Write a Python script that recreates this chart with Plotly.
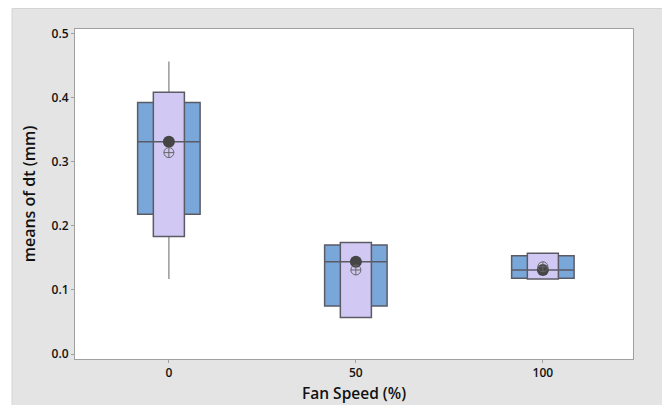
import plotly.graph_objects as go

# ---- data ----
fan_speed = [0, 50, 100]
q1 = [0.218, 0.075, 0.118]
median = [0.331, 0.144, 0.131]
q3 = [0.392, 0.170, 0.153]
ci_low = [0.183, 0.057, 0.117]
ci_high = [0.408, 0.174, 0.157]
whisker_low = [0.117, 0.075, 0.118]
whisker_high = [0.456, 0.170, 0.153]
mean = [0.314, 0.131, 0.136]

x_ticks = [0, 50, 100]
y_ticks = [0.0, 0.1, 0.2, 0.3, 0.4, 0.5]

BLUE = "#79a7d9"
PURPLE = "#d1c9f3"
OUTLINE = "#5b5b66"
WHISK = "#9a9a9a"
FONT = "Open Sans"

fig = go.Figure()

# whiskers (drawn first, beneath the boxes)
fig.add_trace(go.Box(
    x=fan_speed, q1=median, median=median, q3=median,
    lowerfence=whisker_low, upperfence=whisker_high,
    width=0.001, whiskerwidth=0, boxpoints=False,
    line=dict(color=WHISK, width=1.5), fillcolor="rgba(0,0,0,0)",
    hoverinfo="skip", showlegend=False,
))
# interquartile box
fig.add_trace(go.Box(
    x=fan_speed, q1=q1, median=median, q3=q3,
    lowerfence=q1, upperfence=q3,
    width=16.7, whiskerwidth=0, boxpoints=False,
    line=dict(color=OUTLINE, width=1.5), fillcolor=BLUE,
    hoverinfo="skip", showlegend=False,
))
# median confidence interval box
fig.add_trace(go.Box(
    x=fan_speed, q1=ci_low, median=median, q3=ci_high,
    lowerfence=ci_low, upperfence=ci_high,
    width=8.3, whiskerwidth=0, boxpoints=False,
    line=dict(color=OUTLINE, width=1.5), fillcolor=PURPLE,
    hoverinfo="skip", showlegend=False,
))
# median dot
fig.add_trace(go.Scatter(
    x=fan_speed, y=median, mode="markers",
    marker=dict(symbol="circle", size=12, color="#454545"),
    hoverinfo="skip", showlegend=False,
))
# mean symbol
fig.add_trace(go.Scatter(
    x=fan_speed, y=mean, mode="markers",
    marker=dict(symbol="circle-cross-open", size=10, color="#666666",
                line=dict(width=1, color="#666666")),
    hoverinfo="skip", showlegend=False,
))

# page has an 8px body margin; figure coordinates = page - 8
OFF = 8
W, H = 670 - OFF, 405 - OFF
L, T = 75 - OFF, 29 - OFF
R = W - (633 - OFF)
B = H - (359 - OFF)
pw, ph = W - L - R, H - T - B

def px_x(p):
    return (p - OFF - L) / pw

def px_y(p):
    return (H - B - (p - OFF)) / ph

shapes = [
    dict(type="rect", xref="paper", yref="paper", layer="below",
         x0=px_x(12), x1=px_x(664), y0=px_y(410), y1=px_y(8.5),
         fillcolor="#e4e4e4", line=dict(color="#d4d4d4", width=1)),
    dict(type="rect", xref="paper", yref="paper", layer="below",
         x0=0, x1=1, y0=0, y1=1, fillcolor="white", line=dict(width=0)),
]

axis_common = dict(
    showgrid=False, zeroline=False, showline=True, linecolor="#a0a0a0",
    linewidth=1, mirror=True, ticks="outside", ticklen=3, tickcolor="#a0a0a0",
    tickfont=dict(family=FONT, size=12, color="#111111", weight=600),
)
title_font = dict(family=FONT, size=16, color="#111111", weight=600)

annotations = [
    dict(text="Fan Speed (%)", xref="paper", yref="paper",
         x=0.5, y=px_y(381), xanchor="center", yanchor="top",
         showarrow=False, font=dict(family=FONT, size=15.5, color="#111111",
                                    weight=600),
         borderpad=0),
]

fig.update_layout(
    width=W, height=H, autosize=False,
    margin=dict(l=L, r=R, t=T, b=B, pad=0),
    paper_bgcolor="white", plot_bgcolor="white",
    boxmode="overlay",
    shapes=shapes,
    annotations=annotations,
    xaxis=dict(range=[-25.1, 124.1], tickvals=x_ticks, **axis_common),
    yaxis=dict(range=[-0.0078, 0.5067], tickvals=y_ticks, tickformat=".1f",
               title=dict(text="means of dt (mm)", standoff=11, font=title_font),
               **axis_common),
)

fig.write_html("out.html")
